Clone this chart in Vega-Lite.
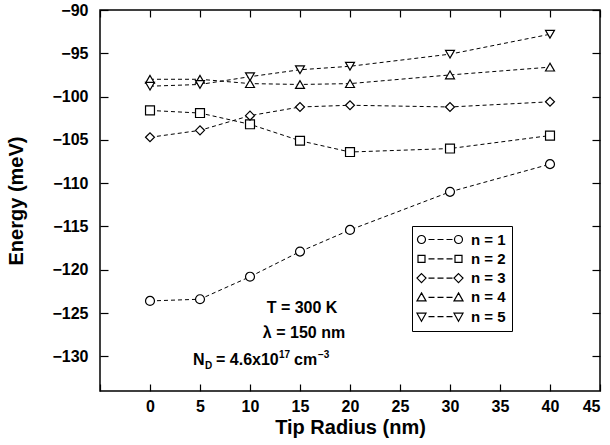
{
  "$schema": "https://vega.github.io/schema/vega-lite/v6.json",
  "width": 500,
  "height": 381,
  "autosize": "none",
  "padding": {"left": 100, "top": 10, "right": 10, "bottom": 54},
  "background": "white",
  "config": {
    "view": {"stroke": "black", "strokeWidth": 1.5},
    "font": "Liberation Sans",
    "axis": {
      "labelFont": "Liberation Sans", "labelFontSize": 16, "labelFontWeight": "bold", "labelColor": "black",
      "titleFont": "Liberation Sans", "titleFontSize": 20, "titleFontWeight": "bold", "titleColor": "black",
      "tickColor": "black", "tickWidth": 1.2, "grid": false, "domain": false
    }
  },
  "datasets": {
    "energy": [
      {"r": 0, "E": -123.6, "n": "n = 1"}, {"r": 5, "E": -123.4, "n": "n = 1"}, {"r": 10, "E": -120.8, "n": "n = 1"}, {"r": 15, "E": -117.9, "n": "n = 1"}, {"r": 20, "E": -115.4, "n": "n = 1"}, {"r": 30, "E": -111.0, "n": "n = 1"}, {"r": 40, "E": -107.8, "n": "n = 1"},
      {"r": 0, "E": -101.6, "n": "n = 2"}, {"r": 5, "E": -101.9, "n": "n = 2"}, {"r": 10, "E": -103.2, "n": "n = 2"}, {"r": 15, "E": -105.1, "n": "n = 2"}, {"r": 20, "E": -106.4, "n": "n = 2"}, {"r": 30, "E": -106.0, "n": "n = 2"}, {"r": 40, "E": -104.5, "n": "n = 2"},
      {"r": 0, "E": -104.7, "n": "n = 3"}, {"r": 5, "E": -103.9, "n": "n = 3"}, {"r": 10, "E": -102.2, "n": "n = 3"}, {"r": 15, "E": -101.2, "n": "n = 3"}, {"r": 20, "E": -101.0, "n": "n = 3"}, {"r": 30, "E": -101.2, "n": "n = 3"}, {"r": 40, "E": -100.6, "n": "n = 3"},
      {"r": 0, "E": -98.0, "n": "n = 4"}, {"r": 5, "E": -98.0, "n": "n = 4"}, {"r": 10, "E": -98.5, "n": "n = 4"}, {"r": 15, "E": -98.6, "n": "n = 4"}, {"r": 20, "E": -98.5, "n": "n = 4"}, {"r": 30, "E": -97.5, "n": "n = 4"}, {"r": 40, "E": -96.6, "n": "n = 4"},
      {"r": 0, "E": -98.8, "n": "n = 5"}, {"r": 5, "E": -98.6, "n": "n = 5"}, {"r": 10, "E": -97.7, "n": "n = 5"}, {"r": 15, "E": -96.9, "n": "n = 5"}, {"r": 20, "E": -96.5, "n": "n = 5"}, {"r": 30, "E": -95.1, "n": "n = 5"}, {"r": 40, "E": -92.8, "n": "n = 5"}
    ],
    "nd": [{"r": 4.3, "E": -131.0}]
  },
  "layer": [
    {
      "data": {"name": "energy"},
      "mark": {"type": "line", "stroke": "black", "strokeWidth": 1, "strokeDash": [4, 3]},
      "encoding": {
        "x": {"field": "r", "type": "quantitative", "scale": {"domain": [-5, 45], "nice": false, "zero": false},
              "axis": {"orient": "bottom", "ticks": false, "values": [0, 5, 10, 15, 20, 25, 30, 35, 40, 45], "labelPadding": 7, "title": "Tip Radius (nm)", "titlePadding": 3}},
        "y": {"field": "E", "type": "quantitative", "scale": {"domain": [-134, -90], "nice": false, "zero": false},
              "axis": {"orient": "left", "ticks": false, "values": [-130, -125, -120, -115, -110, -105, -100, -95, -90], "labelPadding": 12, "title": "Energy (meV)", "titlePadding": 25}},
        "detail": {"field": "n", "type": "nominal"}
      }
    },
    {
      "data": {"name": "energy"},
      "mark": {"type": "point", "filled": true, "fill": "white", "stroke": "black", "strokeWidth": 1.2, "size": 80, "opacity": 1},
      "encoding": {
        "x": {"field": "r", "type": "quantitative", "scale": {"domain": [-5, 45], "nice": false, "zero": false},
              "axis": {"orient": "bottom", "labels": false, "title": null, "tickSize": 7, "offset": -7}},
        "y": {"field": "E", "type": "quantitative", "scale": {"domain": [-134, -90], "nice": false, "zero": false},
              "axis": {"orient": "left", "labels": false, "title": null, "tickSize": 8, "offset": -8}},
        "shape": {
          "field": "n", "type": "nominal",
          "scale": {"range": ["circle", "square", "diamond", "triangle-up", "triangle-down"]},
          "legend": null
        }
      }
    },
    {
      "data": {"values": [{"r": 15.2, "E": -125.0, "t": "T = 300 K"}]},
      "mark": {"type": "text", "font": "Liberation Sans", "fontSize": 16, "fontWeight": "bold", "align": "center", "baseline": "alphabetic", "color": "black"},
      "encoding": {
        "x": {"field": "r", "type": "quantitative", "scale": {"domain": [-5, 45], "nice": false, "zero": false},
              "axis": {"orient": "top", "labels": false, "title": null, "tickSize": 7, "offset": -7}},
        "y": {"field": "E", "type": "quantitative", "scale": {"domain": [-134, -90], "nice": false, "zero": false},
              "axis": {"orient": "right", "labels": false, "title": null, "tickSize": 8, "offset": -8}},
        "text": {"field": "t"}
      }
    },
    {
      "data": {"values": [{"r": 15.4, "E": -127.9, "t": "λ = 150 nm"}]},
      "mark": {"type": "text", "font": "Liberation Sans", "fontSize": 16, "fontWeight": "bold", "align": "center", "baseline": "alphabetic", "color": "black"},
      "encoding": {
        "x": {"field": "r", "type": "quantitative", "axis": null},
        "y": {"field": "E", "type": "quantitative", "axis": null},
        "text": {"field": "t"}
      }
    },
    {
      "data": {"name": "nd"},
      "mark": {"type": "text", "font": "Liberation Sans", "fontSize": 16, "fontWeight": "bold", "align": "left", "baseline": "alphabetic", "color": "black", "text": "N"},
      "encoding": {
        "x": {"field": "r", "type": "quantitative", "axis": null},
        "y": {"field": "E", "type": "quantitative", "axis": null}
      }
    },
    {
      "data": {"name": "energy"},
      "mark": {"type": "point", "filled": false, "stroke": "black", "strokeWidth": 1.2, "size": 0},
      "encoding": {
        "x": {"field": "r", "type": "quantitative", "axis": null},
        "y": {"field": "E", "type": "quantitative", "axis": null},
        "shape": {
          "field": "n", "type": "nominal",
          "scale": {"range": [
            "M-8,0A4,4 0 1,0 0,0A4,4 0 1,0 -8,0ZM29,0A4,4 0 1,0 37,0A4,4 0 1,0 29,0ZM3,0H9M12,0H18M21,0H27",
            "M-7.5,-3.5H-0.5V3.5H-7.5ZM29.5,-3.5H36.5V3.5H29.5ZM3,0H9M12,0H18M21,0H27",
            "M-4,-4.5L0.5,0L-4,4.5L-8.5,0ZM33,-4.5L37.5,0L33,4.5L28.5,0ZM3,0H9M12,0H18M21,0H27",
            "M-4,-4.5L0.5,3.5L-8.5,3.5ZM33,-4.5L37.5,3.5L28.5,3.5ZM3,0H9M12,0H18M21,0H27",
            "M-4,4.5L0.5,-3.5L-8.5,-3.5ZM33,4.5L37.5,-3.5L28.5,-3.5ZM3,0H9M12,0H18M21,0H27"
          ]},
          "legend": {
            "title": null, "orient": "none", "legendX": 312, "legendY": 216,
            "strokeColor": "black", "fillColor": "white", "padding": 6, "rowPadding": 3.3,
            "labelFont": "Liberation Sans", "labelFontSize": 15, "labelFontWeight": "bold", "labelColor": "black",
            "labelOffset": 38, "symbolSize": 4, "symbolStrokeColor": "black", "symbolStrokeWidth": 1.2,
            "symbolFillColor": "white", "symbolOpacity": 1
          }
        }
      }
    },
    {
      "data": {"name": "nd"},
      "mark": {"type": "text", "font": "Liberation Sans", "fontSize": 10, "fontWeight": "bold", "align": "left", "baseline": "alphabetic", "color": "black", "text": "D", "dx": 12, "dy": 4},
      "encoding": {
        "x": {"field": "r", "type": "quantitative", "axis": null},
        "y": {"field": "E", "type": "quantitative", "axis": null}
      }
    },
    {
      "data": {"name": "nd"},
      "mark": {"type": "text", "font": "Liberation Sans", "fontSize": 16, "fontWeight": "bold", "align": "left", "baseline": "alphabetic", "color": "black", "text": "= 4.6x10", "dx": 23},
      "encoding": {
        "x": {"field": "r", "type": "quantitative", "axis": null},
        "y": {"field": "E", "type": "quantitative", "axis": null}
      }
    },
    {
      "data": {"name": "nd"},
      "mark": {"type": "text", "font": "Liberation Sans", "fontSize": 10, "fontWeight": "bold", "align": "left", "baseline": "alphabetic", "color": "black", "text": "17", "dx": 86, "dy": -7},
      "encoding": {
        "x": {"field": "r", "type": "quantitative", "axis": null},
        "y": {"field": "E", "type": "quantitative", "axis": null}
      }
    },
    {
      "data": {"name": "nd"},
      "mark": {"type": "text", "font": "Liberation Sans", "fontSize": 16, "fontWeight": "bold", "align": "left", "baseline": "alphabetic", "color": "black", "text": "cm", "dx": 101},
      "encoding": {
        "x": {"field": "r", "type": "quantitative", "axis": null},
        "y": {"field": "E", "type": "quantitative", "axis": null}
      }
    },
    {
      "data": {"name": "nd"},
      "mark": {"type": "text", "font": "Liberation Sans", "fontSize": 10, "fontWeight": "bold", "align": "left", "baseline": "alphabetic", "color": "black", "text": "−3", "dx": 125, "dy": -7},
      "encoding": {
        "x": {"field": "r", "type": "quantitative", "axis": null},
        "y": {"field": "E", "type": "quantitative", "axis": null}
      }
    }
  ],
  "resolve": {"axis": {"x": "independent", "y": "independent"}, "scale": {"shape": "independent"}}
}
